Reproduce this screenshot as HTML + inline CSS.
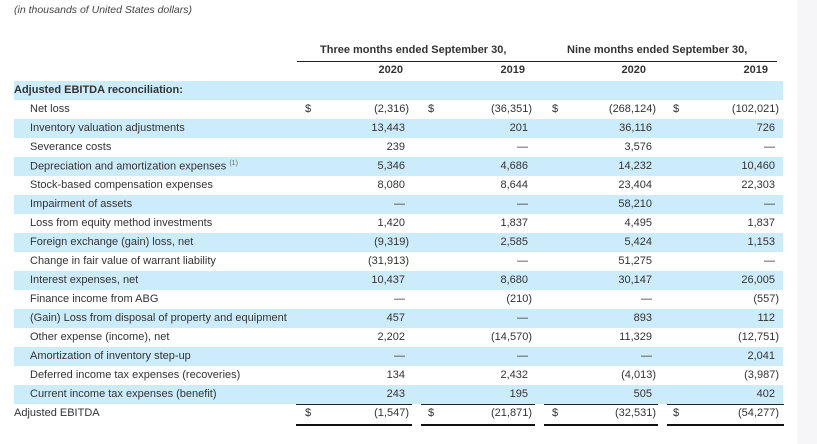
<!DOCTYPE html>
<html><head><meta charset="utf-8"><style>
body{margin:0;width:817px;height:444px;background:#fff;position:relative;overflow:hidden;font-family:"Liberation Sans",Arial,sans-serif;font-size:11px;color:#333;}
.side{position:absolute;left:797px;top:0;width:20px;height:444px;background:#f6f6f8;}
.a{position:absolute;white-space:nowrap;}
.row{position:absolute;left:14px;width:769px;height:19px;}
.blue{background:#cdecfb;}
.l{position:absolute;height:1px;background:#222;}
.t{position:absolute;height:2px;background:#111;}
.num{position:absolute;text-align:right;white-space:nowrap;}
</style></head><body>
<div class="side"></div>
<div class="a" style="left:14px;top:4px;font-style:italic;font-size:10.5px;color:#444">(in thousands of United States dollars)</div>
<div class="a" style="left:320px;top:44px;font-weight:bold;width:185px;text-align:center">Three months ended September 30,</div>
<div class="a" style="left:567px;top:44px;font-weight:bold;width:178px;text-align:center">Nine months ended September 30,</div>
<div class="l" style="left:297px;top:61px;width:480px"></div>
<div class="num" style="left:340px;width:63px;top:64px;font-weight:bold">2020</div>
<div class="num" style="left:460px;width:65px;top:64px;font-weight:bold">2019</div>
<div class="num" style="left:580px;width:66px;top:64px;font-weight:bold">2020</div>
<div class="num" style="left:700px;width:68px;top:64px;font-weight:bold">2019</div>
<div class="l" style="left:297px;top:81px;width:113px"></div>
<div class="l" style="left:419px;top:81px;width:113px"></div>
<div class="l" style="left:541px;top:81px;width:112px"></div>
<div class="l" style="left:662px;top:81px;width:115px"></div>
<div id="rows"></div>
<script>
var data=[
["Adjusted EBITDA reconciliation:",null,1],
["Net loss",["(2,316)","(36,351)","(268,124)","(102,021)"],0,1],
["Inventory valuation adjustments",["13,443","201","36,116","726"]],
["Severance costs",["239","—","3,576","—"]],
["Depreciation and amortization expenses <sup style='font-size:7px;color:#666'>(1)</sup>",["5,346","4,686","14,232","10,460"]],
["Stock-based compensation expenses",["8,080","8,644","23,404","22,303"]],
["Impairment of assets",["—","—","58,210","—"]],
["Loss from equity method investments",["1,420","1,837","4,495","1,837"]],
["Foreign exchange (gain) loss, net",["(9,319)","2,585","5,424","1,153"]],
["Change in fair value of warrant liability",["(31,913)","—","51,275","—"]],
["Interest expenses, net",["10,437","8,680","30,147","26,005"]],
["Finance income from ABG",["—","(210)","—","(557)"]],
["(Gain) Loss from disposal of property and equipment",["457","—","893","112"]],
["Other expense (income), net",["2,202","(14,570)","11,329","(12,751)"]],
["Amortization of inventory step-up",["—","—","—","2,041"]],
["Deferred income tax expenses (recoveries)",["134","2,432","(4,013)","(3,987)"]],
["Current income tax expenses (benefit)",["243","195","505","402"]],
["Adjusted EBITDA",["(1,547)","(21,871)","(32,531)","(54,277)"],2,1]
];
var ends=[405,528,652,775],dol=[305,428,552,673],h="";
data.forEach(function(d,i){
 var top=81+19*i;
 h+='<div class="row'+(i%2==0&&i<17?' blue':'')+'" style="top:'+top+'px"></div>';
 var ind=(d[2]==1||d[2]==2)?14:30;
 h+='<div class="a" style="left:'+ind+'px;top:'+(top+3)+'px;'+(d[2]==1?'font-weight:bold;':'')+'">'+d[0]+'</div>';
 if(d[1]){d[1].forEach(function(v,j){
  var p=v.charAt(v.length-1)==')';
  h+='<div class="num" style="left:'+(ends[j]-100+(p?4:0))+'px;width:100px;top:'+(top+3)+'px">'+v+'</div>';
  if(d[3])h+='<div class="a" style="left:'+dol[j]+'px;top:'+(top+3)+'px">$</div>';
 });}
});
var L=[[296,116],[421,114],[544,114],[667,117]];
L.forEach(function(c){h+='<div class="l" style="left:'+c[0]+'px;top:404px;width:'+c[1]+'px"></div>';h+='<div class="t" style="left:'+c[0]+'px;top:424px;width:'+c[1]+'px"></div>';});
document.getElementById('rows').innerHTML=h;
</script>
</body></html>
